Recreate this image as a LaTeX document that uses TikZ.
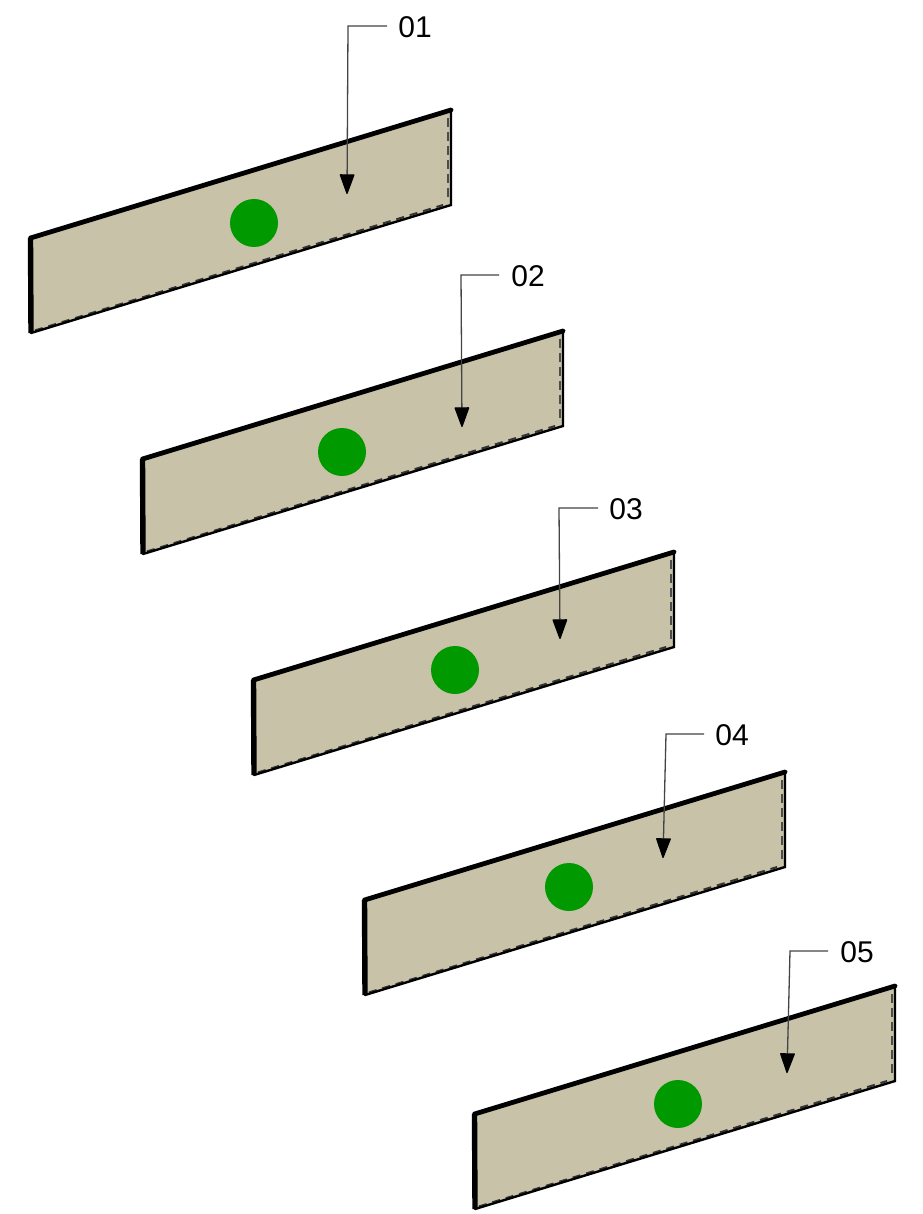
\documentclass[tikz,border=0pt]{standalone}
\usepackage{fontspec}
\setmainfont{Liberation Sans}
\usetikzlibrary{arrows.meta,calc}
\definecolor{panel}{HTML}{C8C2A8}
\definecolor{dot}{HTML}{009900}
\definecolor{lead}{HTML}{444444}
\tikzset{
  panelface/.style={fill=panel,draw=none},
  topedge/.style={line width=4.8pt,line cap=round},
  leftedge/.style={line width=5.4pt,line cap=butt},
  thinedge/.style={line width=2.4pt,line cap=round},
  hidden/.style={line width=1.8pt,dash pattern=on 9pt off 5pt,draw=black!70},
  lowhidden/.style={line width=2pt,dash pattern=on 8pt off 6pt,draw=black!80},
  greendot/.style={circle,fill=dot,draw=none,minimum size=48pt,inner sep=0pt},
  tag/.style={font=\fontsize{30}{32}\selectfont,inner sep=0pt,text=black},
  leader/.style={line width=1.3pt,draw=lead,-{Stealth[length=21pt,width=15pt,inset=0pt,round,black]}}
}
\begin{document}
\begin{tikzpicture}[x=1pt,y=-1pt]
\useasboundingbox (0,0) rectangle (922,1214);
\foreach \i/\x/\y/\cx/\cy/\lx/\ly/\ex/\ey/\tx/\ty/\ax in {
 1/30/238/254/223/415/27/348/26/347/194/387,
 2/142/459/342/452/528/276/461/275/462/427/499,
 3/253/680/455/670/626/509/559/508/560/639/598,
 4/364/900/569/887/732/735/666/734/663/858/704,
 5/474/1114/678/1104/857/952/790/951/787/1073/828}{
  \coordinate (a\i) at (\x+0.5,\y);
  \coordinate (b\i) at (\x+421,\y-128);
  \coordinate (c\i) at (\x+421,\y-33);
  \coordinate (d\i) at (\x+1,\y+95);
  \fill[panelface] (a\i) -- (b\i) -- (c\i) -- (d\i) -- cycle;
  \draw[hidden] ($(b\i)+(-3.2,8)$) -- ($(c\i)+(-3.2,-6)$);
  \draw[lowhidden] ($(d\i)+(4,-2.6)$) -- ($(c\i)+(-8,0)$);
  \draw[thinedge] (b\i) -- (c\i) -- (d\i);
  \draw[leftedge] (a\i) -- (d\i);
  \draw[topedge] (a\i) -- (b\i);
  \node[greendot] (dot\i) at (\cx,\cy) {};
  \node[tag] (tag\i) at (\lx,\ly) {0\i};
  \coordinate (start\i) at (\ax,\ey);
  \coordinate (elbow\i) at (\ex,\ey);
  \coordinate (tip\i) at (\tx,\ty);
  \draw[leader] (start\i) -- (elbow\i) -- (tip\i);
}
\end{tikzpicture}
\end{document}
